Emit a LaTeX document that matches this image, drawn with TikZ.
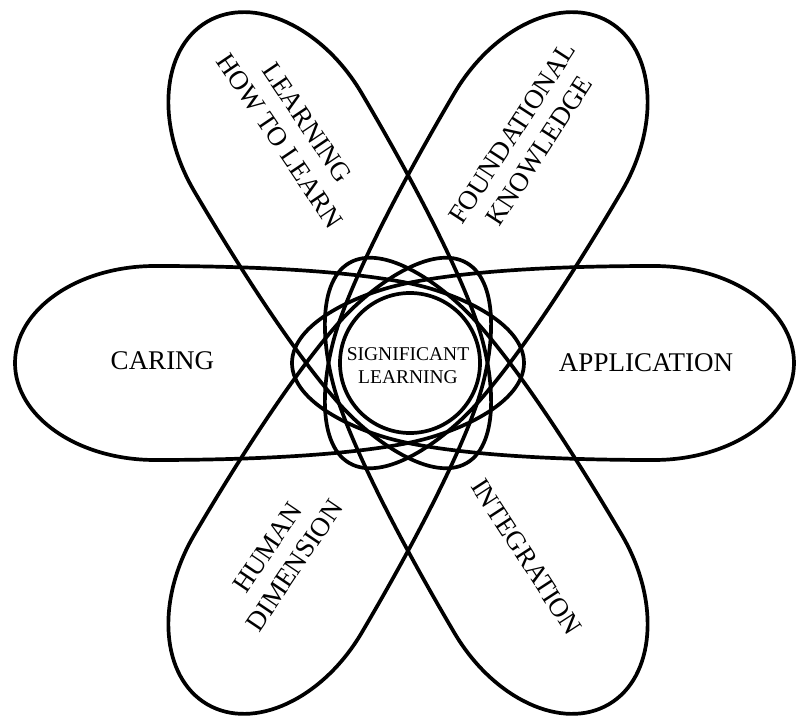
\documentclass[tikz,border=0pt]{standalone}
\usepackage{fontspec}
\setmainfont{Liberation Serif}
\usepackage{tikz}

\tikzset{
    petal/.style={line width=3.7pt, line join=round},
    label/.style={align=center, font=\fontsize{27}{32.5}\selectfont, inner sep=0pt},
    core/.style={align=center, font=\fontsize{19.5}{23}\selectfont, inner sep=0pt}
}

% one petal: #1 = direction, #2 = centre of its wide end
\newcommand{\drawpetal}[2]{%
    \draw[petal, rotate=#1] (0,80) .. controls (-50,70) and (-116,40) .. (-116,0)
        .. controls (-116,-40) and (-50,-70) .. (0,-80)
        .. controls (60,-92) and ({#2-100},-97) .. (#2,-97)
        arc[start angle=-90, end angle=90, x radius=140, y radius=97]
        .. controls ({#2-100},97) and (60,92) .. (0,80) -- cycle;}

\begin{document}
\begin{tikzpicture}[x=1pt, y=1pt]
    \useasboundingbox (-408,-354) rectangle (388,363);

    \drawpetal{0}{246}
    \drawpetal{59.5}{256}
    \drawpetal{120.5}{256}
    \drawpetal{180}{253}
    \drawpetal{239.5}{256}
    \drawpetal{300.5}{256}

    \draw[petal] (2,0) circle (70);

    \node[core] (sig) at (0,-2.5) {SIGNIFICANT\\LEARNING};
    \node[label] (app) at (238,0.5) {APPLICATION};
    \node[label] (car) at (-245.5,2) {CARING};
    \node[label, rotate=57] (fk) at (118,221) {FOUNDATIONAL\\KNOWLEDGE};
    \node[label, rotate=-56] (lhtl) at (-114.5,231) {LEARNING\\HOW TO LEARN};
    \node[label, rotate=56] (hd) at (-127,-193.5) {HUMAN\\DIMENSION};
    \node[label, rotate=-57] (int) at (118.5,-194) {INTEGRATION};
\end{tikzpicture}
\end{document}
